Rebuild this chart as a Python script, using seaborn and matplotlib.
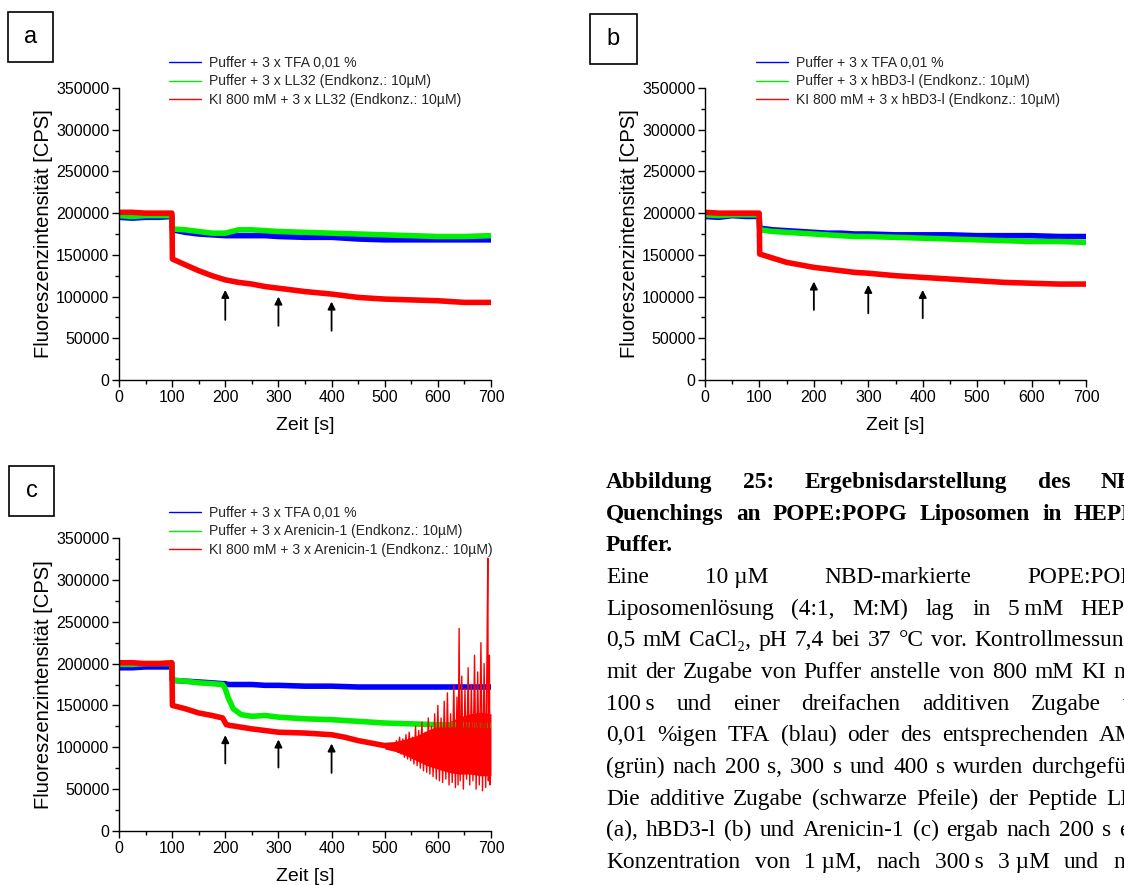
import numpy as np
import pandas as pd
import matplotlib
matplotlib.use("Agg")
import matplotlib.pyplot as plt
import seaborn as sns
from matplotlib.patches import Rectangle
from matplotlib.lines import Line2D
from matplotlib.ticker import MultipleLocator, FuncFormatter

sns.set_style("ticks")
plt.rcParams['font.family'] = ['Liberation Sans', 'DejaVu Sans']

# ---------------- data ----------------
a_time = [0, 25, 50, 75, 99.5, 100.5, 125, 150, 175, 200, 225, 250, 275, 300, 350, 400, 450, 500, 550, 600, 650, 700]
a_blue = [195000, 194000, 195000, 195000, 196000, 180000, 177000, 175000, 174000, 173000, 173000, 173000, 173000, 172000,
          171000, 171000, 169000, 168000, 168000, 168000, 168000, 168000]
a_green = [197000, 196000, 197000, 197000, 197000, 181000, 180000, 178000, 176000, 176000, 180000, 180000, 179000, 178000,
           177000, 176000, 175000, 174000, 173000, 172000, 172000, 173000]
a_red = [201000, 201000, 200000, 200000, 200000, 145000, 138000, 131000, 125000, 120000, 117000, 115000, 112000, 110000,
         106000, 103000, 99000, 97000, 96000, 95000, 93000, 93000]

b_time = [0, 25, 50, 75, 99.5, 100.5, 125, 150, 175, 200, 225, 250, 275, 300, 350, 400, 450, 500, 550, 600, 650, 700]
b_blue = [196000, 195000, 197000, 196000, 196000, 182000, 180000, 179000, 178000, 177000, 176000, 176000, 175000, 175000,
          174000, 174000, 174000, 173000, 173000, 173000, 172000, 172000]
b_green = [198000, 197000, 198000, 198000, 198000, 180000, 178000, 177000, 176000, 175000, 174000, 173000, 172000, 172000,
           171000, 170000, 169000, 168000, 167000, 166000, 166000, 165000]
b_red = [201000, 200000, 200000, 200000, 200000, 151000, 146000, 141000, 138000, 135000, 133000, 131000, 129000, 128000,
         125000, 123000, 121000, 119000, 117000, 116000, 115000, 115000]

c_time = [0, 25, 50, 75, 99.5, 100.5, 125, 150, 175, 195, 200, 205, 215, 230, 250, 275, 300, 350, 400, 450, 500, 550,
          600, 650, 700]
c_blue = [195000, 195000, 196000, 196000, 196000, 180000, 179000, 178000, 177000, 176000, 176000, 175000, 175000, 175000,
          175000, 174000, 174000, 173000, 173000, 172000, 172000, 172000, 172000, 172000, 172000]
c_green = [199000, 199000, 200000, 200000, 200000, 180000, 179000, 177000, 176000, 175000, 170000, 160000, 146000,
           139000, 137000, 138000, 136000, 134000, 133000, 131000, 129000, 128000, 127000, 127000, 126000]
c_red_time = [0, 25, 50, 75, 99.5, 100.5, 125, 150, 175, 195, 202, 210, 230, 250, 275, 300, 350, 400, 425, 450, 475,
              500, 520]
c_red = [201000, 201000, 200000, 200000, 201000, 150000, 146000, 141000, 138000, 135000, 127000, 126000, 124000,
         122000, 120000, 118000, 117000, 115000, 112000, 108000, 105000, 102000, 100000]
# dense noise envelope of the red trace in panel c
c_env_time = [500, 520, 540, 560, 580, 600, 620, 640, 660, 680, 700]
c_env_low = [98000, 95000, 90000, 84000, 78000, 74000, 70000, 68000, 68000, 66000, 66000]
c_env_high = [106000, 107000, 110000, 114000, 120000, 126000, 130000, 136000, 140000, 142000, 140000]
# individual spikes of the red trace in panel c
c_red_tail_time = [520, 522, 525, 528, 531, 534, 537, 540, 543, 546, 549, 552, 555, 558, 561, 564, 567, 570, 573, 576,
                   579, 582, 585, 588, 591, 594, 597, 600, 603, 606, 609, 612, 615, 618, 621, 624, 627, 630, 633, 636,
                   638, 640, 642, 645, 648, 651, 654, 657, 660, 663, 666, 669, 672, 675, 678, 681, 684, 687, 690, 692,
                   694, 695, 697, 698, 700]
c_red_tail = [100000, 108000, 94000, 112000, 92000, 110000, 88000, 115000, 86000, 118000, 84000, 112000, 80000, 125000,
              78000, 120000, 75000, 130000, 72000, 118000, 70000, 135000, 68000, 125000, 65000, 140000, 62000, 150000,
              60000, 135000, 58000, 155000, 62000, 165000, 55000, 140000, 58000, 175000, 52000, 160000, 55000, 242000,
              60000, 185000, 50000, 170000, 62000, 195000, 55000, 175000, 60000, 210000, 50000, 190000, 55000, 225000,
              48000, 200000, 52000, 180000, 326000, 60000, 210000, 55000, 110000]

series_labels = {
    'a': ["Puffer + 3 x TFA 0,01 %", "Puffer + 3 x LL32 (Endkonz.: 10\u00b5M)",
          "KI 800 mM + 3 x LL32 (Endkonz.: 10\u00b5M)"],
    'b': ["Puffer + 3 x TFA 0,01 %", "Puffer + 3 x hBD3-l (Endkonz.: 10\u00b5M)",
          "KI 800 mM + 3 x hBD3-l (Endkonz.: 10\u00b5M)"],
    'c': ["Puffer + 3 x TFA 0,01 %", "Puffer + 3 x Arenicin-1 (Endkonz.: 10\u00b5M)",
          "KI 800 mM + 3 x Arenicin-1 (Endkonz.: 10\u00b5M)"],
}

arrow_x = [200, 300, 400]
a_arrow_tip = [108000, 100000, 94000]
a_arrow_base = [72000, 65000, 59000]
b_arrow_tip = [118000, 114000, 108000]
b_arrow_base = [84000, 80000, 74000]
c_arrow_tip = [114500, 109300, 104500]
c_arrow_base = [80600, 75800, 69400]

x_label = "Zeit [s]"
y_label = "Fluoreszenzintensit\u00e4t [CPS]"

# caption lines: text, justified?, weight
caption_lines = [
    ("Abbildung 25: Ergebnisdarstellung des NBD-", True, 'bold'),
    ("Quenchings an POPE:POPG Liposomen in HEPES-", True, 'bold'),
    ("Puffer.", False, 'bold'),
    ("Eine 10\u00a0\u00b5M NBD-markierte POPE:POPG-", True, 'normal'),
    ("Liposomenl\u00f6sung (4:1, M:M) lag in 5\u2009mM HEPES,", True, 'normal'),
    ("0,5 mM CaCl\u2082, pH 7,4 bei 37 \u00b0C vor. Kontrollmessungen", True, 'normal'),
    ("mit der Zugabe von Puffer anstelle von 800 mM KI nach", True, 'normal'),
    ("100\u2009s und einer dreifachen additiven Zugabe von", True, 'normal'),
    ("0,01 %igen TFA (blau) oder des entsprechenden AMPs", True, 'normal'),
    ("(gr\u00fcn) nach 200 s, 300 s und 400 s wurden durchgef\u00fchrt.", True, 'normal'),
    ("Die additive Zugabe (schwarze Pfeile) der Peptide LL32", True, 'normal'),
    ("(a), hBD3-l (b) und Arenicin-1 (c) ergab nach 200 s eine", True, 'normal'),
    ("Konzentration von 1\u00a0\u00b5M, nach 300\u2009s 3\u00a0\u00b5M und nach", True, 'normal'),
]

# ---------------- figure ----------------
W, H = 1124, 885
fig = plt.figure(figsize=(W / 100, H / 100), dpi=100)
fig.patch.set_facecolor('white')


def fx(px):
    return px / W


def fy(py):
    return 1 - py / H


panels = {
    'a': dict(rect=(119, 88, 491, 380), time=a_time, blue=a_blue, green=a_green, red_t=a_time, red=a_red,
              tip=a_arrow_tip, base=a_arrow_base, leg=(169, 56), box=(8, 12, 53, 62)),
    'b': dict(rect=(705, 88, 1086, 380), time=b_time, blue=b_blue, green=b_green, red_t=b_time, red=b_red,
              tip=b_arrow_tip, base=b_arrow_base, leg=(756, 56), box=(590, 14, 637, 64)),
    'c': dict(rect=(119, 538, 491, 831), time=c_time, blue=c_blue, green=c_green, red_t=c_red_time, red=c_red,
              tip=c_arrow_tip, base=c_arrow_base, leg=(169, 506), box=(9, 466, 54, 516)),
}
colors = ['#0000ff', '#00ee00', '#ff0000']
trace_lw = 4.0

for key, p in panels.items():
    l, t, r, b = p['rect']
    ax = fig.add_axes([fx(l), fy(b), (r - l) / W, (b - t) / H])
    sns.lineplot(x=p['time'], y=p['blue'], ax=ax, color=colors[0], lw=trace_lw, estimator=None)
    sns.lineplot(x=p['time'], y=p['green'], ax=ax, color=colors[1], lw=trace_lw, estimator=None)
    sns.lineplot(x=p['red_t'], y=p['red'], ax=ax, color=colors[2], lw=trace_lw, estimator=None)
    if key == 'c':
        ax.fill_between(c_env_time, c_env_low, c_env_high, color=colors[2], lw=0)
        sns.lineplot(x=c_red_tail_time, y=c_red_tail, ax=ax, color=colors[2], lw=1.0, estimator=None, sort=False)
    ax.set_xlim(0, 700)
    ax.set_ylim(0, 350000)
    ax.xaxis.set_major_locator(MultipleLocator(100))
    ax.xaxis.set_minor_locator(MultipleLocator(50))
    ax.yaxis.set_major_locator(MultipleLocator(50000))
    ax.yaxis.set_minor_locator(MultipleLocator(25000))
    ax.tick_params(which='major', direction='out', length=5, width=1, colors='black', labelsize=11.5, pad=2)
    ax.tick_params(which='minor', direction='out', length=3, width=1, colors='black')
    ax.yaxis.set_major_formatter(FuncFormatter(lambda v, pos: f"{int(v)}"))
    sns.despine(ax=ax)
    for s in ['left', 'bottom']:
        ax.spines[s].set_color('black')
        ax.spines[s].set_linewidth(1)
    ax.set_xlabel(x_label, fontsize=14, labelpad=9, color='black')
    ax.set_ylabel(y_label, fontsize=14.5, labelpad=2, color='black')
    for xa, tip, base in zip(arrow_x, p['tip'], p['base']):
        ax.annotate('', xy=(xa, tip), xytext=(xa, base),
                    arrowprops=dict(arrowstyle='-|>', color='black', lw=1.3, mutation_scale=11,
                                    shrinkA=0, shrinkB=0))
    handles = [Line2D([], [], color=c, lw=1) for c in colors]
    lx, ly = p['leg']
    ax.legend(handles, series_labels[key], loc='upper left', bbox_to_anchor=(fx(lx), fy(ly)),
              bbox_transform=fig.transFigure, frameon=False, fontsize=10.1, borderpad=0, borderaxespad=0,
              handlelength=2.25, handletextpad=0.6, labelspacing=0.32)
    bx0, by0, bx1, by1 = p['box']
    fig.add_artist(Rectangle((fx(bx0), fy(by1)), (bx1 - bx0) / W, (by1 - by0) / H, transform=fig.transFigure,
                             fill=False, edgecolor='black', lw=1.2))
    fig.text(fx((bx0 + bx1) / 2), fy((by0 + by1) / 2), key, ha='center', va='center', fontsize=17, color='black')

# caption (justified block that runs past the right edge of the picture)
serif = ['Liberation Serif', 'DejaVu Serif']
renderer = fig.canvas.get_renderer()
probe = fig.text(0, 0, "mit der Zugabe von Puffer anstelle von 800 mM KI", family=serif, fontsize=10)
wpx = probe.get_window_extent(renderer).width
probe.remove()
cap_size = 10 * 482 / wpx


def word_width(w, weight):
    tt = fig.text(0, 0, w, family=serif, fontsize=cap_size, fontweight=weight)
    ww = tt.get_window_extent(renderer).width
    tt.remove()
    return ww


line_gap = 31.67
baseline0 = 488
x_start = 606
x_right = 1158
for i, (text, justified, weight) in enumerate(caption_lines):
    yb = baseline0 + i * line_gap
    if not justified:
        fig.text(fx(x_start), fy(yb), text, family=serif, fontsize=cap_size, fontweight=weight,
                 va='baseline', ha='left', color='black')
        continue
    words = text.split(' ')
    widths = [word_width(w, weight) for w in words]
    gap = (x_right - x_start - sum(widths)) / (len(words) - 1)
    x = x_start
    for j, w in enumerate(words):
        fig.text(fx(x), fy(yb), w, family=serif, fontsize=cap_size, fontweight=weight,
                 va='baseline', ha='left', color='black')
        x += widths[j] + gap

fig.savefig('out.png', dpi=100, facecolor='white')
